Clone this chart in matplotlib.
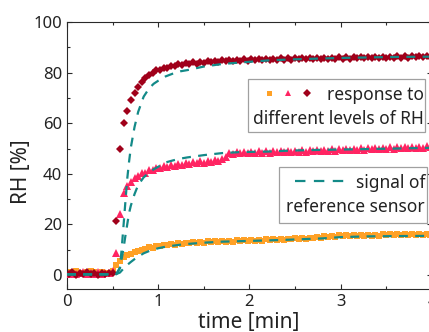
import numpy as np
import matplotlib
matplotlib.use("Agg")
import matplotlib.pyplot as plt
from matplotlib.lines import Line2D
from matplotlib.patches import Rectangle
from matplotlib.ticker import MultipleLocator

plt.rcParams['font.family'] = ['Noto Sans', 'DejaVu Sans']

# ---------------- data ----------------
sample_step_min = 0.04
sample_start_min = 0.02
n_samples = 100
time_min = sample_start_min + sample_step_min * np.arange(n_samples)

rh_low = [1.2, 0.8, 1.5, 1.0, 0.6, 1.3, 1.8, 1.1, 0.7, 1.4, 1.0, 0.8, 1.6,
          3.8, 5.6, 7.0, 7.9, 8.3, 9.1, 9.4, 10.1, 10.3, 10.9, 10.8, 11.5,
          11.3, 11.9, 11.7, 12.3, 12.0, 12.6, 12.2, 12.8, 12.5, 13.0, 12.6,
          13.1, 12.8, 13.3, 12.9, 13.4, 13.0, 13.5, 13.1, 13.6, 13.2, 13.7,
          13.3, 13.8, 13.4, 13.9, 13.5, 14.0, 13.6, 14.1, 13.8, 14.2, 13.9,
          14.3, 14.0, 14.4, 14.1, 14.5, 14.2, 14.6, 14.3, 14.8, 14.5, 15.0,
          14.7, 15.3, 15.0, 15.6, 15.2, 15.7, 15.3, 15.8, 15.4, 15.9, 15.5,
          15.9, 15.5, 16.0, 15.6, 16.0, 15.6, 16.1, 15.7, 16.1, 15.7, 16.2,
          15.8, 16.2, 15.8, 16.3, 15.9, 16.3, 15.9, 16.4, 16.0]

rh_mid = [0.5, 1.0, 0.3, 0.8, 1.2, 0.4, 0.9, 0.6, 1.1, 0.3, 0.7, 1.0, 1.5,
          8.6, 24.0, 32.5, 35.3, 36.8, 38.4, 39.0, 40.3, 40.5, 41.6, 41.5,
          42.5, 42.2, 43.1, 42.8, 43.5, 43.1, 43.9, 43.4, 44.2, 43.8, 44.6,
          44.1, 44.9, 44.4, 45.2, 44.7, 45.4, 45.0, 45.7, 46.5, 48.3, 47.9,
          48.6, 48.1, 48.7, 48.2, 48.8, 48.3, 48.9, 48.4, 48.9, 48.4, 49.0,
          48.5, 49.0, 48.6, 49.1, 48.6, 49.2, 48.7, 49.3, 48.8, 49.4, 48.9,
          49.5, 49.0, 49.6, 49.1, 49.7, 49.2, 49.8, 49.3, 49.9, 49.4, 50.0,
          49.5, 50.1, 49.6, 50.2, 49.7, 50.3, 49.8, 50.4, 49.9, 50.5, 50.0,
          50.6, 50.1, 50.7, 50.2, 50.8, 50.3, 50.8, 50.4, 50.9, 50.5]

rh_high = [0.6, 1.1, 0.2, 0.9, 0.4, 1.2, 0.5, 0.8, 0.1, 1.0, 0.3, 0.7, 0.9,
           21.3, 50.0, 60.2, 65.0, 69.0, 71.8, 74.3, 76.4, 77.9, 79.2, 79.9,
           80.9, 81.2, 82.0, 82.0, 82.7, 82.6, 83.3, 83.0, 83.7, 83.3, 84.0,
           83.6, 84.3, 83.8, 84.5, 84.0, 84.7, 84.2, 84.8, 84.4, 85.0, 84.5,
           85.1, 84.6, 85.2, 84.7, 85.3,
           84.8, 85.4, 84.9, 85.5, 85.0, 85.5, 85.0, 85.6, 85.1, 85.6,
           85.1, 85.7, 85.2, 85.7, 85.2, 85.8, 85.3, 85.8, 85.3, 85.9,
           85.4, 85.9, 85.4, 86.0, 85.5, 86.0, 85.5, 86.1, 85.6, 86.1,
           85.6, 86.2, 85.7, 86.2, 85.7, 86.3, 85.8, 86.3, 85.8, 86.4,
           85.9, 86.4, 85.9, 86.5, 86.0, 86.5, 86.0, 86.6, 86.1]

ref_time = [0.0, 0.50, 0.54, 0.58, 0.60, 0.62, 0.64, 0.66, 0.68, 0.70, 0.74,
            0.78, 0.84, 0.90, 0.95, 1.0, 1.08, 1.16, 1.24, 1.32, 1.5, 1.7,
            1.9, 2.2, 2.45, 2.8, 3.0, 3.3, 3.6, 4.0]
ref_low = [0.3, 0.3, 0.4, 1.0, 1.8, 2.6, 3.3, 4.0, 4.6, 5.2, 6.3, 7.3, 8.6,
           9.5, 10.1, 10.6, 11.2, 11.6, 12.0, 12.3, 12.8, 13.2, 13.4, 13.7,
           14.0, 14.5, 15.0, 15.3, 15.4, 15.5]
ref_mid = [0.3, 0.3, 0.4, 2.8, 6.5, 10.7, 15.5, 20.0, 24.5, 27.5, 32.0, 35.6,
           38.6, 40.5, 41.8, 42.8, 44.5, 45.3, 46.0, 46.5, 47.4, 48.2, 48.6,
           48.8, 49.2, 49.5, 49.6, 49.8, 50.0, 50.3]
ref_high = [0.3, 0.3, 0.4, 2.8, 10.7, 19.8, 29.0, 38.0, 44.8, 50.5, 58.5,
            64.5, 70.5, 73.8, 75.6, 76.8, 78.5, 79.6, 80.5, 81.0, 82.4, 83.4,
            84.0, 84.8, 85.2, 85.6, 85.8, 86.0, 86.2, 86.3]

x_ticks = [0, 1, 2, 3, 4]
y_ticks = [0, 20, 40, 60, 80, 100]
legend_resp = ["response to", "different levels of RH"]
legend_ref = ["signal of", "reference sensor"]

# ---------------- style ----------------
c_low = '#FFA126'
c_mid = '#FF2462'
c_high = '#A0001A'
c_ref = '#138A88'
c_axis = '#2a2a2a'
c_text = '#222222'

W, H = 429, 332
fig = plt.figure(figsize=(W / 100, H / 100), dpi=100)
ax = fig.add_axes([67 / W, 43 / H, 365 / W, 267 / H])

ax.plot(time_min, rh_low, ls='none', marker='s', ms=4.6, mew=0, color=c_low, zorder=2)
ax.plot(time_min, rh_mid, ls='none', marker='^', ms=6.0, mew=0, color=c_mid, zorder=3)
ax.plot(time_min, rh_high, ls='none', marker='D', ms=4.2, mew=0, color=c_high, zorder=4)
for ref in (ref_low, ref_mid, ref_high):
    ax.plot(ref_time, ref, color=c_ref, lw=1.6, ls=(0, (4.0, 3.3)), zorder=5)

ax.set_xlim(0, 4)
ax.set_ylim(-5.5, 100)
ax.set_xticks(x_ticks)
ax.set_yticks(y_ticks)
ax.xaxis.set_minor_locator(MultipleLocator(0.5))
ax.yaxis.set_minor_locator(MultipleLocator(10))
ax.tick_params(which='both', direction='in', top=True, right=True,
               color=c_axis, width=0.8, labelcolor=c_text, labelsize=12)
ax.tick_params(which='major', length=3.8, pad=3.5)
ax.tick_params(which='minor', length=2.4)
for s in ax.spines.values():
    s.set_color(c_axis)
    s.set_linewidth(0.8)

ax.set_xlabel("time [min]", fontsize=15, color=c_text)
ax.set_ylabel("RH [%]", fontsize=15, color=c_text)
ax.xaxis.set_label_coords(0.497, -0.087)
ax.yaxis.set_label_coords(-0.095, 0.44)


def fx(px):
    return px / W


def fy(py):
    return 1 - py / H


# legend box 1
fig.add_artist(Rectangle((fx(248), fy(132)), (425 - 248) / W, (132 - 79) / H,
                         transform=fig.transFigure, facecolor='white',
                         edgecolor='#a0a0a0', lw=0.9, zorder=10))
fig.text(fx(424), fy(100), legend_resp[0], ha='right', va='baseline',
         fontsize=12.5, color=c_text, zorder=11)
fig.text(fx(424), fy(123.5), legend_resp[1], ha='right', va='baseline',
         fontsize=12.5, color=c_text, zorder=11)
for px, mk, ms, col in ((269, 's', 3.6, c_low), (288, '^', 4.8, c_mid),
                        (307, 'D', 3.9, c_high)):
    fig.add_artist(Line2D([fx(px)], [fy(93)], marker=mk, ms=ms, mew=0,
                          color=col, ls='none', transform=fig.transFigure,
                          zorder=12))

# legend box 2
fig.add_artist(Rectangle((fx(279), fy(223)), (427 - 279) / W, (223 - 167) / H,
                         transform=fig.transFigure, facecolor='white',
                         edgecolor='#a0a0a0', lw=0.9, zorder=10))
fig.text(fx(425), fy(188.5), legend_ref[0], ha='right', va='baseline',
         fontsize=12.5, color=c_text, zorder=11)
fig.text(fx(425), fy(212), legend_ref[1], ha='right', va='baseline',
         fontsize=12.5, color=c_text, zorder=11)
fig.add_artist(Line2D([fx(295), fx(344)], [fy(181), fy(181)], color=c_ref,
                      lw=1.6, ls=(0, (4.7, 3.8)), transform=fig.transFigure,
                      zorder=12))

fig.savefig("out.png", dpi=100)
